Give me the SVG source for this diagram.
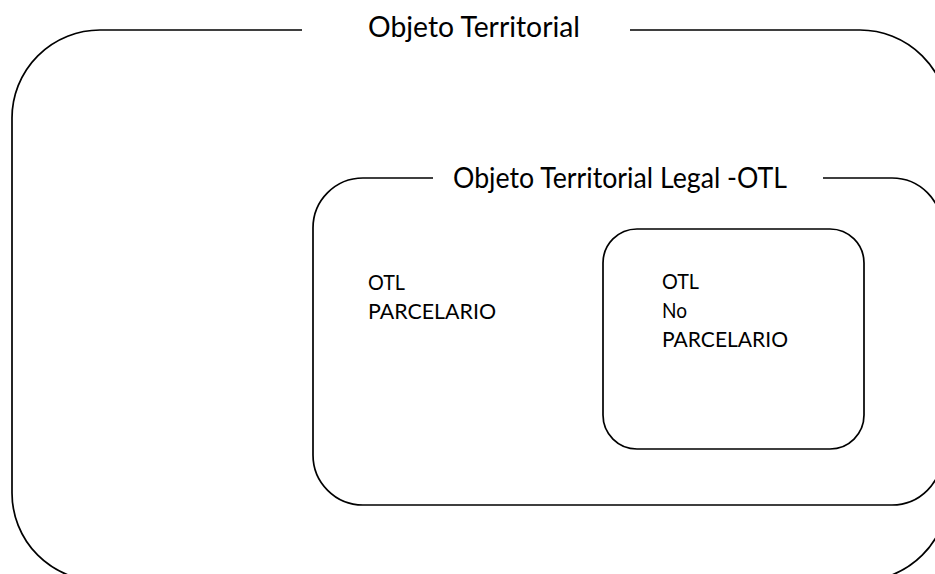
<svg xmlns="http://www.w3.org/2000/svg" width="935" height="574" viewBox="0 0 935 574">
<style>
.box{fill:none;stroke:#000;stroke-width:1.7}
.title{font-family:Lato,"Open Sans","Liberation Sans",sans-serif;font-size:28px;fill:#000}
.lbl{font-family:Lato,"Open Sans","Liberation Sans",sans-serif;font-size:22px;fill:#000}
</style>
<rect width="935" height="574" fill="#fff"/>
<g id="objeto-territorial">
<path class="box" d="M302,30 H100 A88,88 0 0 0 12,118 V493 A88,88 0 0 0 100,581 H860 A88,88 0 0 0 948,493 V118 A88,88 0 0 0 860,30 H630"/>
<text class="title" x="368" y="37" textLength="212" lengthAdjust="spacingAndGlyphs">Objeto Territorial</text>
</g>
<g id="otl">
<path class="box" d="M433,178 H363 A50,50 0 0 0 313,228 V455 A50,50 0 0 0 363,505 H892 A50,50 0 0 0 942,455 V228 A50,50 0 0 0 892,178 H823"/>
<text class="title" x="453" y="188" textLength="334" lengthAdjust="spacingAndGlyphs">Objeto Territorial Legal -OTL</text>
</g>
<g id="otl-parcelario">
<text class="lbl" x="368" y="290" textLength="37" lengthAdjust="spacingAndGlyphs">OTL</text>
<text class="lbl" x="368" y="319" textLength="128" lengthAdjust="spacingAndGlyphs">PARCELARIO</text>
</g>
<g id="otl-no-parcelario">
<rect class="box" x="603" y="229" width="261" height="220" rx="34" ry="34"/>
<text class="lbl" x="662" y="289" textLength="37" lengthAdjust="spacingAndGlyphs">OTL</text>
<text class="lbl" x="662" y="318" textLength="25" lengthAdjust="spacingAndGlyphs">No</text>
<text class="lbl" x="662" y="347" textLength="126" lengthAdjust="spacingAndGlyphs">PARCELARIO</text>
</g>
<g id="connectors"/>
</svg>
